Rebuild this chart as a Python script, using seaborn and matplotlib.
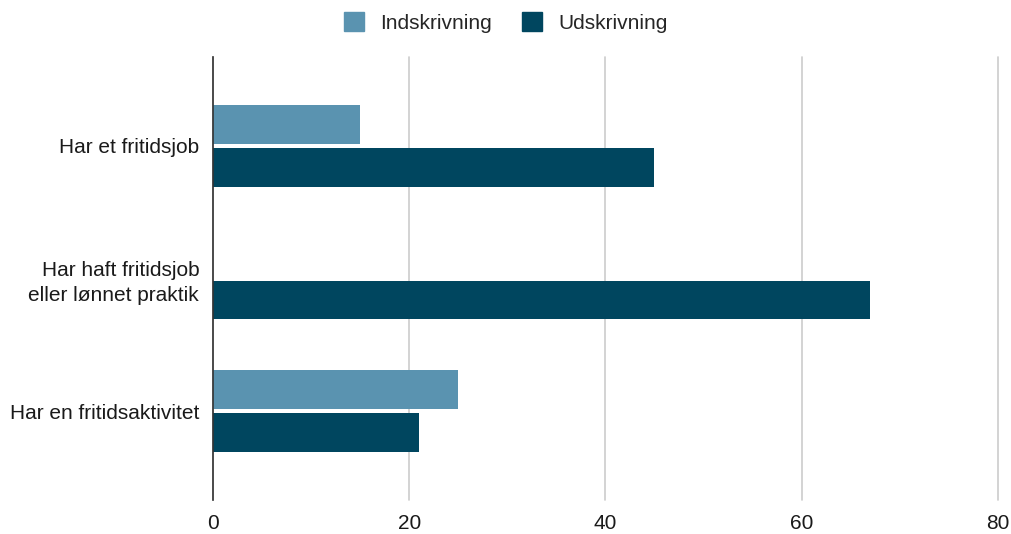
import numpy as np
import pandas as pd
import seaborn as sns
import matplotlib.pyplot as plt

categories = ["Har et fritidsjob", "Har haft fritidsjob\neller lønnet praktik", "Har en fritidsaktivitet"]
indskrivning = [15, np.nan, 25]
udskrivning = [45, 67, 21]
series = ["Indskrivning", "Udskrivning"]
colors = ["#5a93b0", "#00465f"]

df = pd.DataFrame({
    "kategori": categories * 2,
    "serie": [series[0]] * 3 + [series[1]] * 3,
    "værdi": indskrivning + udskrivning,
})

sns.set_style("white")
plt.rcParams['font.family'] = ['Liberation Sans', 'DejaVu Sans']

fig = plt.figure(figsize=(10.12, 5.34), dpi=100)
ax = fig.add_axes([0.2105, 0.064, 0.7755, 0.829])

sns.barplot(data=df, y="kategori", x="værdi", hue="serie", palette=colors,
            orient="h", width=0.65, gap=0.1, saturation=1, linewidth=0,
            ax=ax, legend=False)

ax.set_xlim(0, 80)
ax.set_ylim(2.67, -0.67)
ax.set_xticks([0, 20, 40, 60, 80])
ax.grid(axis="x", color="#cccccc", linewidth=1.2)
for gl in ax.get_xgridlines():
    gl.set_clip_on(False)
ax.set_axisbelow(True)
for s in ["top", "right", "bottom"]:
    ax.spines[s].set_visible(False)
ax.spines["left"].set_color("#333333")
ax.spines["left"].set_linewidth(1.2)
ax.spines["left"].set_zorder(5)
ax.tick_params(axis="both", length=0, labelsize=15, colors="#1a1a1a")
ax.tick_params(axis="x", pad=10)
ax.tick_params(axis="y", pad=10)
for t in ax.get_yticklabels():
    t.set_linespacing(1.35)
ax.set_xlabel("")
ax.set_ylabel("")

handles = [plt.Rectangle((0, 0), 1, 1, color=c) for c in colors]
fig.legend(handles, series, loc="upper center", bbox_to_anchor=(0.5, 1.012), ncol=2,
           frameon=False, fontsize=15, handlelength=0.95, handleheight=1.0,
           columnspacing=1.45, handletextpad=0.8)

fig.savefig("out.png", dpi=100)
